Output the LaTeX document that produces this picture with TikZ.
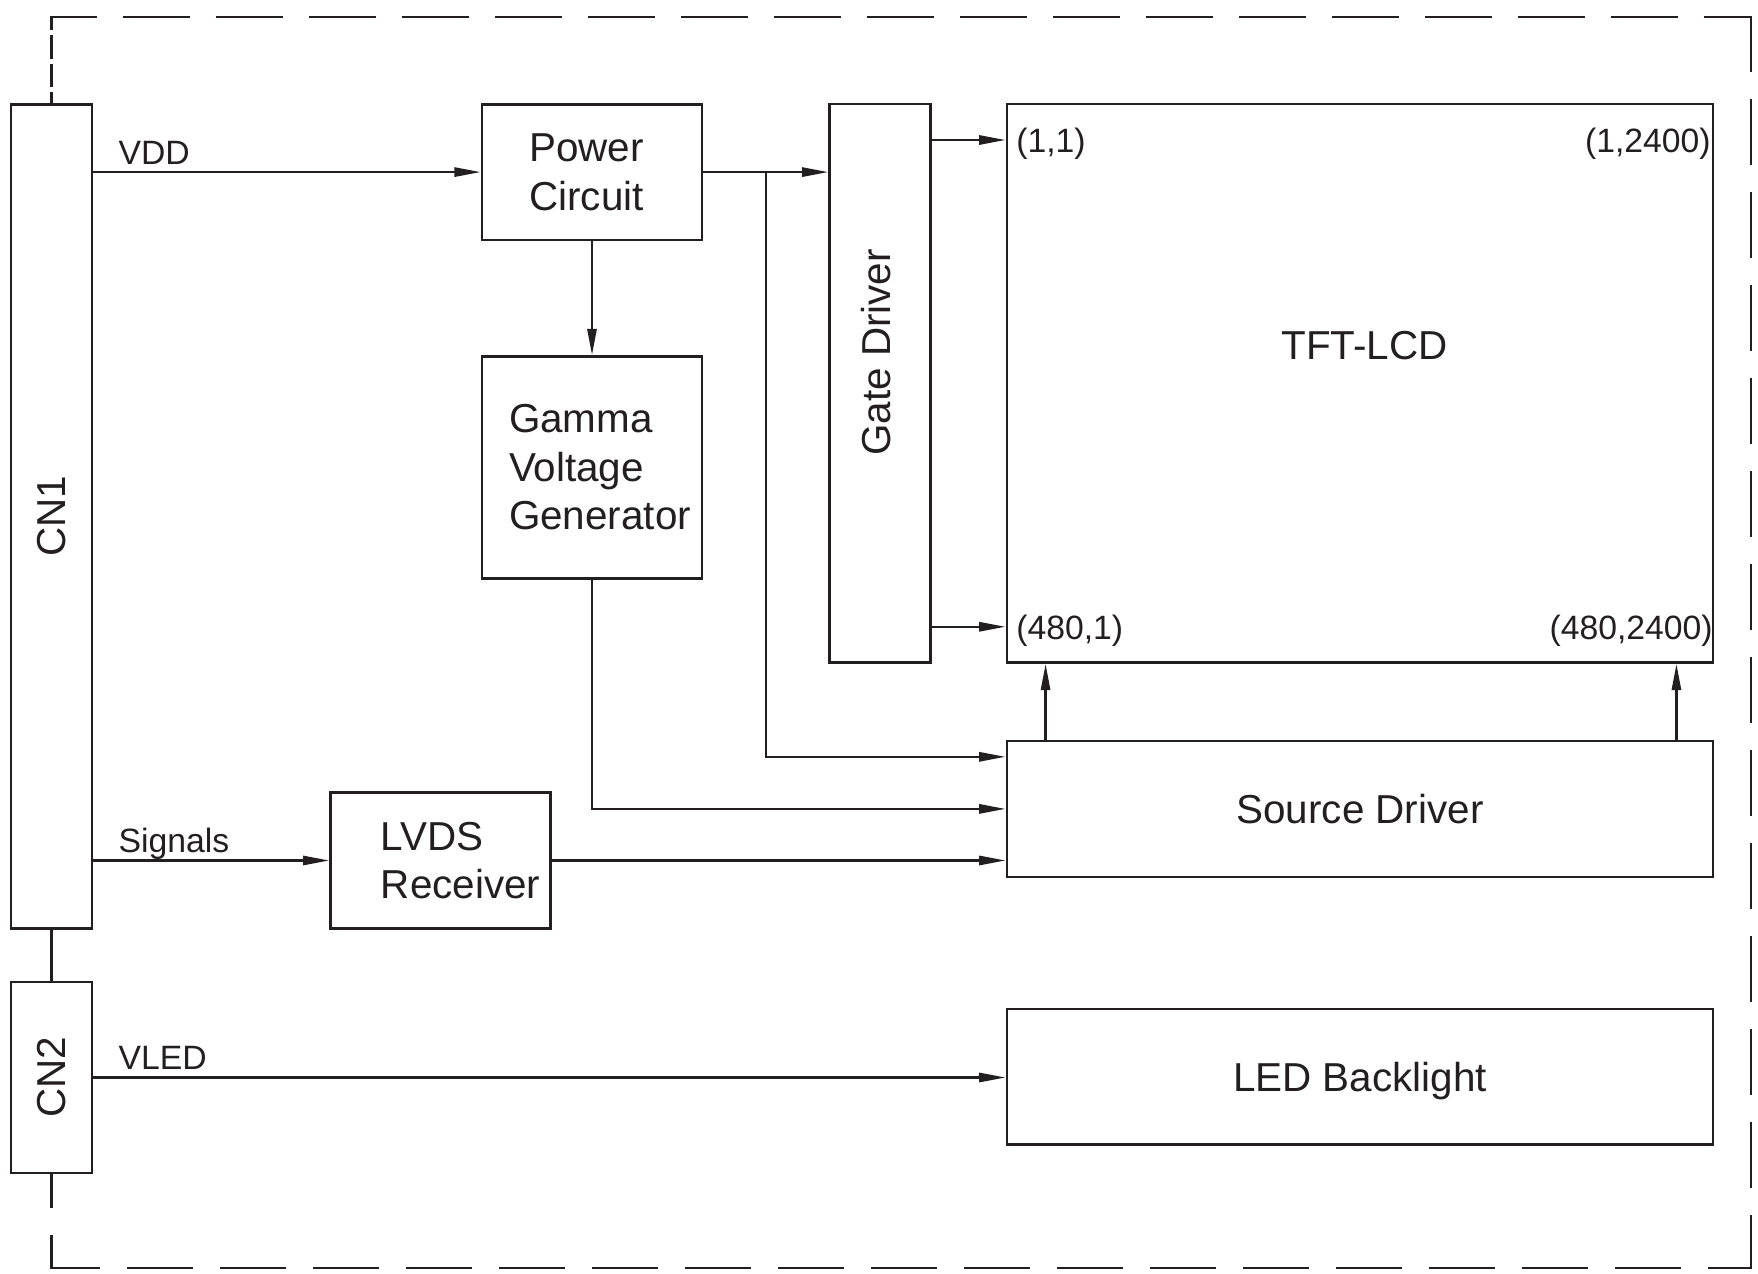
\documentclass[tikz,border=0pt]{standalone}
\usepackage{fontspec}
\setmainfont{Liberation Sans}
\usepackage{xcolor}
\usetikzlibrary{positioning}
\usetikzlibrary{calc}
\usetikzlibrary{arrows.meta}

\definecolor{ink}{HTML}{231F20}

\tikzset{
    blk/.style={draw, line width=0.7pt, inner sep=0pt, text depth=0pt, font=\fontsize{11.5}{13.8}\selectfont},
    txt/.style={inner sep=0pt, font=\fontsize{11.5}{13.8}\selectfont},
    lbl/.style={inner sep=0pt, anchor=base west, xshift=0.24cm, yshift=0.08cm, font=\fontsize{9.6}{11}\selectfont},
    pix/.style={inner sep=0pt, yshift=-0.04cm, font=\fontsize{9.6}{11}\selectfont},
    sig/.style={line width=0.7pt, -{Triangle[length=7.5pt, width=2.6pt]}},
    wire/.style={line width=0.7pt},
    frame/.style={line width=0.7pt, line cap=rect, dash pattern=on 0.64cm off 0.29cm},
}

\begin{document}
\begin{tikzpicture}[color=ink]
    \useasboundingbox (0,0) rectangle (17.58,-12.74);

    \coordinate (tl) at (0.516,-0.17);
    \coordinate (tr) at (17.51,-0.17);
    \coordinate (br) at (17.51,-12.68);
    \coordinate (bl) at (0.516,-12.68);

    \node[blk, minimum width=0.81cm, minimum height=8.24cm] (CN1) at (0.516,-5.163) {};
    \node[txt, rotate=90] (CN1t) at (CN1.center) {CN1};
    \node[blk, minimum width=0.81cm, minimum height=1.91cm] (CN2) at (0.516,-10.775) {};
    \node[txt, rotate=90] (CN2t) at (CN2.center) {CN2};

    \node[blk, minimum width=2.2cm, minimum height=1.356cm] (PC) at (5.92,-1.721) {};
    \node[txt, align=center] (PCt) at ([xshift=-0.055cm]PC.center) {Power\\Circuit};
    \node[blk, minimum width=2.2cm, minimum height=2.22cm] (GVG) at (5.92,-4.675) {};
    \node[txt, align=left] (GVGt) at ([xshift=0.08cm]GVG.center) {Gamma\\Voltage\\Generator};
    \node[blk, minimum width=2.2cm, minimum height=1.357cm] (LVDS) at (4.406,-8.605) {};
    \node[txt, align=left] (LVDSt) at ([xshift=0.2cm]LVDS.center) {LVDS\\Receiver};

    \node[blk, minimum width=1.01cm, minimum height=5.583cm] (GD) at (8.801,-3.834) {};
    \node[txt, rotate=90] (GDt) at ([xshift=-0.04cm, yshift=0.31cm]GD.center) {Gate Driver};

    \node[blk, minimum width=7.064cm, minimum height=5.583cm] (LCD) at (13.6,-3.834) {};
    \node[txt] (LCDt) at ([xshift=0.045cm, yshift=0.38cm]LCD.center) {TFT-LCD};
    \node[blk, minimum width=7.064cm, minimum height=1.357cm] (SD) at (13.6,-8.089) {Source Driver};
    \node[blk, minimum width=7.064cm, minimum height=1.356cm] (LED) at (13.6,-10.769) {LED Backlight};

    \node[pix, anchor=west, xshift=0.1cm] (p11) at ([yshift=-0.37cm]LCD.north west) {(1,1)};
    \node[pix, anchor=east, xshift=-0.03cm] (p12) at ([yshift=-0.37cm]LCD.north east) {(1,2400)};
    \node[pix, anchor=west, xshift=0.1cm] (p21) at ([yshift=0.37cm]LCD.south west) {(480,1)};
    \node[pix, anchor=east, xshift=-0.01cm] (p22) at ([yshift=0.37cm]LCD.south east) {(480,2400)};

    \coordinate (tap) at ($(PC.east)!0.5!(PC.east -| GD.west)$);

    \draw[frame, dash pattern=on 0.21cm off 0.075cm, dash phase=0.09cm] (tl) -- (CN1.north);
    \draw[frame, dash phase=0.2cm] (tl) -- (tr);
    \draw[frame, dash phase=0.1cm] (tr) -- (br);
    \draw[frame, dash phase=0.22cm] (br) -- (bl);
    \draw[frame, dash phase=0.32cm] (bl) -- (CN2.south);
    \draw[wire] (CN1.south) -- (CN2.north);

    \draw[sig] (CN1.east |- PC.west) -- node[lbl, pos=0] {VDD} (PC.west);
    \draw[sig] (PC.east) -- (PC.east -| GD.west);
    \draw[sig] (tap) |- ([yshift=-0.17cm]SD.north west);
    \draw[sig] (PC.south) -- (GVG.north);
    \draw[sig] (GVG.south) |- (SD.west);
    \draw[sig] (CN1.east |- LVDS.west) -- node[lbl, pos=0] {Signals} (LVDS.west);
    \draw[sig] (LVDS.east) -- (LVDS.east -| SD.west);
    \draw[sig] (CN2.east) -- node[lbl, pos=0] {VLED} (CN2.east -| LED.west);

    \draw[sig] ([yshift=-0.37cm]GD.north east) -- ([yshift=-0.37cm]LCD.north west);
    \draw[sig] ([yshift=0.37cm]GD.south east) -- ([yshift=0.37cm]LCD.south west);
    \draw[sig] ([xshift=0.4cm]SD.north west) -- ([xshift=0.4cm]LCD.south west);
    \draw[sig] ([xshift=-0.38cm]SD.north east) -- ([xshift=-0.38cm]LCD.south east);
\end{tikzpicture}
\end{document}
